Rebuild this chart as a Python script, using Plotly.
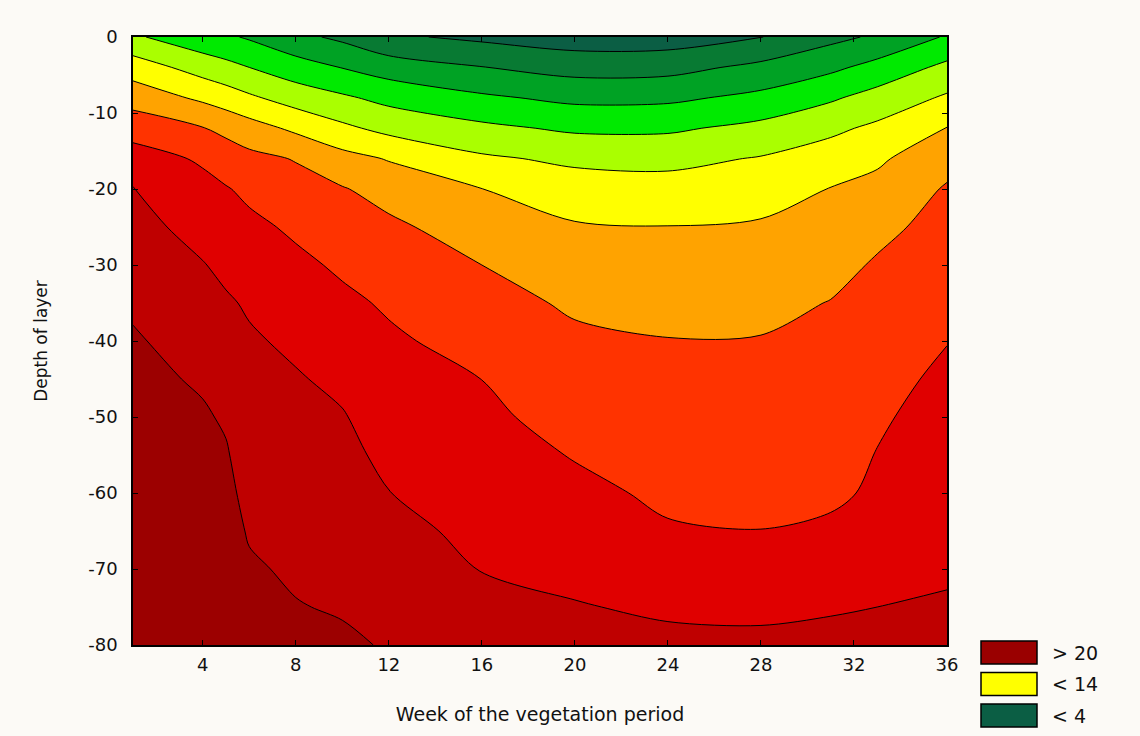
import plotly.graph_objects as go

# Week of the vegetation period (columns) and depth of layer (rows)
weeks = [1, 4, 5, 6, 8, 10, 12, 16, 20, 24, 28, 31, 33, 36]
depths = [0, -4, -8, -12, -16, -20, -25, -30, -35, -40, -45, -50, -55, -60, -65, -70, -75, -80]

# Values, one list per week column (top to bottom)
col_w1 = [10.3, 13.06, 15.18, 17.2, 18.87, 20.1, 20.64, 21.18, 21.72, 22.2, 22.5, 22.8, 23.0, 23.2, 23.4, 23.5, 23.6, 23.7]
col_w4 = [8.7, 11.15, 13.63, 16.08, 17.75, 18.54, 19.33, 20.09, 20.65, 21.21, 21.78, 22.2, 22.5, 22.8, 23.0, 23.2, 23.3, 23.4]
col_w5 = [8.3, 10.59, 13.0, 15.5, 17.02, 18.13, 18.86, 19.58, 20.22, 20.75, 21.27, 21.8, 22.15, 22.4, 22.6, 22.8, 23.0, 23.1]
col_w6 = [7.78, 10.0, 12.32, 14.82, 16.53, 17.58, 18.45, 19.12, 19.79, 20.22, 20.55, 20.88, 21.2, 21.53, 21.86, 22.2, 22.5, 22.8]
col_w8 = [6.5, 8.88, 11.14, 13.6, 15.89, 16.72, 17.68, 18.42, 19.04, 19.67, 20.15, 20.47, 20.79, 21.12, 21.44, 21.76, 22.08, 22.3]
col_w10 = [5.6, 7.94, 10.3, 12.4, 14.67, 16.13, 16.92, 17.71, 18.39, 19.0, 19.61, 20.12, 20.47, 20.81, 21.15, 21.49, 21.84, 22.3]
col_w12 = [4.3, 7.06, 9.44, 11.44, 13.87, 15.27, 16.39, 17.08, 17.77, 18.29, 18.72, 19.16, 19.59, 20.03, 20.5, 20.9, 21.3, 21.85]
col_w16 = [3.6, 6.06, 8.32, 10.43, 12.3, 14.02, 15.01, 16.0, 16.66, 17.32, 17.99, 18.39, 18.78, 19.17, 19.57, 19.96, 20.3, 20.6]
col_w20 = [2.97, 5.26, 7.54, 9.68, 11.62, 12.91, 14.19, 14.96, 15.74, 16.33, 16.82, 17.31, 17.9, 18.44, 18.98, 19.56, 20.1, 20.5]
col_w24 = [3.0, 5.35, 7.61, 9.69, 11.48, 12.75, 14.04, 14.73, 15.42, 16.06, 16.47, 16.87, 17.27, 17.68, 18.16, 18.95, 19.75, 20.4]
col_w28 = [3.95, 6.49, 8.5, 10.54, 12.13, 13.17, 14.23, 14.87, 15.51, 16.09, 16.48, 16.86, 17.24, 17.62, 18.02, 18.84, 19.67, 20.35]
col_w31 = [5.47, 7.58, 9.73, 11.59, 12.93, 14.06, 14.74, 15.43, 16.06, 16.4, 16.74, 17.08, 17.42, 17.76, 18.23, 19.03, 19.84, 20.5]
col_w33 = [6.3, 8.65, 10.76, 12.39, 13.68, 14.58, 15.54, 16.19, 16.55, 16.91, 17.55, 17.8, 18.05, 18.2, 18.7, 19.4, 20.0, 20.5]
col_w36 = [8.2, 10.49, 12.27, 14.06, 15.35, 16.18, 16.62, 17.07, 17.51, 17.96, 18.28, 18.59, 18.9, 19.21, 19.52, 19.83, 20.14, 20.45]

columns = [col_w1, col_w4, col_w5, col_w6, col_w8, col_w10, col_w12, col_w16, col_w20,
           col_w24, col_w28, col_w31, col_w33, col_w36]
z = [[col[i] for col in columns] for i in range(len(depths))]

# Band colours from lowest to highest value
band_colors = ["#0b5e44", "#087a33", "#00a224", "#00ea00", "#aaff00", "#ffff00",
               "#ffa300", "#ff3300", "#e00000", "#bf0000", "#9c0000"]
colorscale = [[i / (len(band_colors) - 1), c] for i, c in enumerate(band_colors)]

x_ticks = [4, 8, 12, 16, 20, 24, 28, 32, 36]
y_ticks = [0, -10, -20, -30, -40, -50, -60, -70, -80]
y_tick_labels = ["0", "-10", "-20", "-30", "-40", "-50", "-60", "-70", "-80"]

legend_labels = ["> 20", "< 14", "< 4"]
legend_colors = ["#9a0000", "#ffff00", "#0b5e44"]

fig = go.Figure()
fig.add_trace(go.Contour(
    x=weeks, y=depths, z=z,
    contours=dict(start=4, end=22, size=2, coloring="fill", showlines=True),
    colorscale=colorscale,
    line=dict(color="black", width=1, smoothing=0.9),
    showscale=False,
    hoverinfo="skip",
))

font_fam = "DejaVu Sans, Verdana, sans-serif"
BG = "#fcfaf6"

# page coordinates of the plot area
PL, PR, PT, PB = 133, 947, 37, 645
PW, PH = PR - PL, PB - PT

shapes = []
annotations = []
for i, (lab, col) in enumerate(zip(legend_labels, legend_colors)):
    top = 641 + i * 31.5
    shapes.append(dict(type="rect", xref="paper", yref="paper",
                       x0=(981 - PL) / PW, x1=(1037 - PL) / PW,
                       y0=(PB - (top + 23)) / PH, y1=(PB - top) / PH,
                       fillcolor=col, line=dict(color="black", width=1.5)))
    annotations.append(dict(text=lab, xref="paper", yref="paper",
                            x=(1050 - PL) / PW, y=(PB - (top + 11.5)) / PH,
                            xanchor="left", yanchor="middle", showarrow=False,
                            font=dict(family=font_fam, size=19, color="#111111")))

W, H = 1140, 736
fig.update_layout(
    width=W, height=H,
    margin=dict(l=PL, r=W - PR, t=PT, b=H - PB),
    paper_bgcolor=BG,
    plot_bgcolor=BG,
    showlegend=False,
    shapes=shapes,
    annotations=annotations,
    xaxis=dict(range=[1, 36], tickvals=x_ticks, ticks="inside", ticklen=5,
               tickcolor="black", showline=True, linecolor="black", linewidth=1.5,
               mirror="ticks", showgrid=False, zeroline=False,
               tickfont=dict(family=font_fam, size=18, color="#111111"),
               ticklabelstandoff=3,
               title=dict(text="Week of the vegetation period", standoff=33,
                          font=dict(family=font_fam, size=19, color="#111111"))),
    yaxis=dict(range=[-80, 0], tickvals=y_ticks, ticktext=y_tick_labels,
               ticks="inside", ticklen=5,
               tickcolor="black", showline=True, linecolor="black", linewidth=1.5,
               mirror="ticks", showgrid=False, zeroline=False,
               tickfont=dict(family=font_fam, size=18, color="#111111"),
               ticklabelstandoff=10,
               title=dict(text="Depth of layer", standoff=36,
                          font=dict(family=font_fam, size=17, color="#111111"))),
)

fig.write_html(
    "out.html",
    config={"displayModeBar": False},
    post_script="document.body.style.margin='0';document.body.style.background='" + BG + "';",
)
